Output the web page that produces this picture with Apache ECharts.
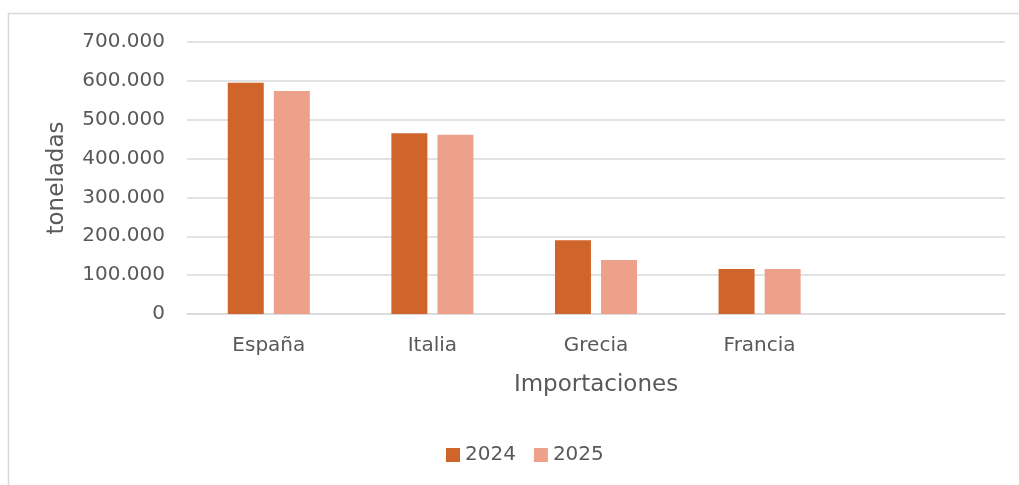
<!DOCTYPE html>
<html>
<head>
<meta charset="utf-8">
<script src="https://cdn.jsdelivr.net/npm/echarts@6/dist/echarts.min.js"></script>
<style>
  html, body { margin: 0; padding: 0; background: #fff; }
  #chart { width: 1019px; height: 485px; }
</style>
</head>
<body>
<div id="chart"></div>
<script>
// Importaciones por país (toneladas)
const categories = ['España', 'Italia', 'Grecia', 'Francia', ''];
const seriesNames = ['2024', '2025'];
const values2024 = [595000, 465000, 190000, 116000, null];
const values2025 = [574000, 461000, 139000, 116000, null];
const yTicks = { min: 0, max: 700000, interval: 100000 };

const FONT = '"DejaVu Sans", sans-serif';
const TEXT = '#595959';

function fmtThousands(v) {
  return String(v).replace(/\B(?=(\d{3})+(?!\d))/g, '.');
}

const chart = echarts.init(document.getElementById('chart'));
chart.setOption({
  animation: false,
  textStyle: { fontFamily: FONT },
  graphic: [{
    type: 'rect',
    shape: { x: 8.5, y: 13.5, width: 1030, height: 500 },
    style: { fill: 'none', stroke: '#d9d9d9', lineWidth: 1.5 },
    silent: true
  }],
  grid: { left: 187, right: 14, top: 42, bottom: 171 },
  legend: {
    data: seriesNames,
    left: 441,
    top: 440,
    itemWidth: 14,
    itemHeight: 14,
    itemGap: 18,
    icon: 'rect',
    textStyle: { color: TEXT, fontSize: 20, fontFamily: FONT }
  },
  xAxis: {
    type: 'category',
    data: categories,
    name: 'Importaciones',
    nameLocation: 'middle',
    nameGap: 60,
    nameTextStyle: { color: TEXT, fontSize: 23, fontFamily: FONT },
    axisLine: { lineStyle: { color: '#d9d9d9', width: 1.5 } },
    axisTick: { show: false },
    axisLabel: { color: TEXT, fontSize: 20, margin: 22, fontFamily: FONT }
  },
  yAxis: {
    type: 'value',
    min: yTicks.min,
    max: yTicks.max,
    interval: yTicks.interval,
    name: 'toneladas',
    nameLocation: 'middle',
    nameGap: 118,
    nameRotate: 90,
    nameTextStyle: { color: TEXT, fontSize: 23, fontFamily: FONT },
    axisLine: { show: false },
    axisTick: { show: false },
    splitLine: { lineStyle: { color: '#d9d9d9', width: 1.5 } },
    axisLabel: {
      color: TEXT, fontSize: 20, margin: 22, fontFamily: FONT,
      formatter: fmtThousands
    }
  },
  series: [
    {
      name: seriesNames[0], type: 'bar', data: values2024,
      barWidth: 36, barGap: '28%',
      itemStyle: { color: '#d0652c' }
    },
    {
      name: seriesNames[1], type: 'bar', data: values2025,
      barWidth: 36,
      itemStyle: { color: '#eea18a' }
    }
  ]
});
</script>
</body>
</html>
